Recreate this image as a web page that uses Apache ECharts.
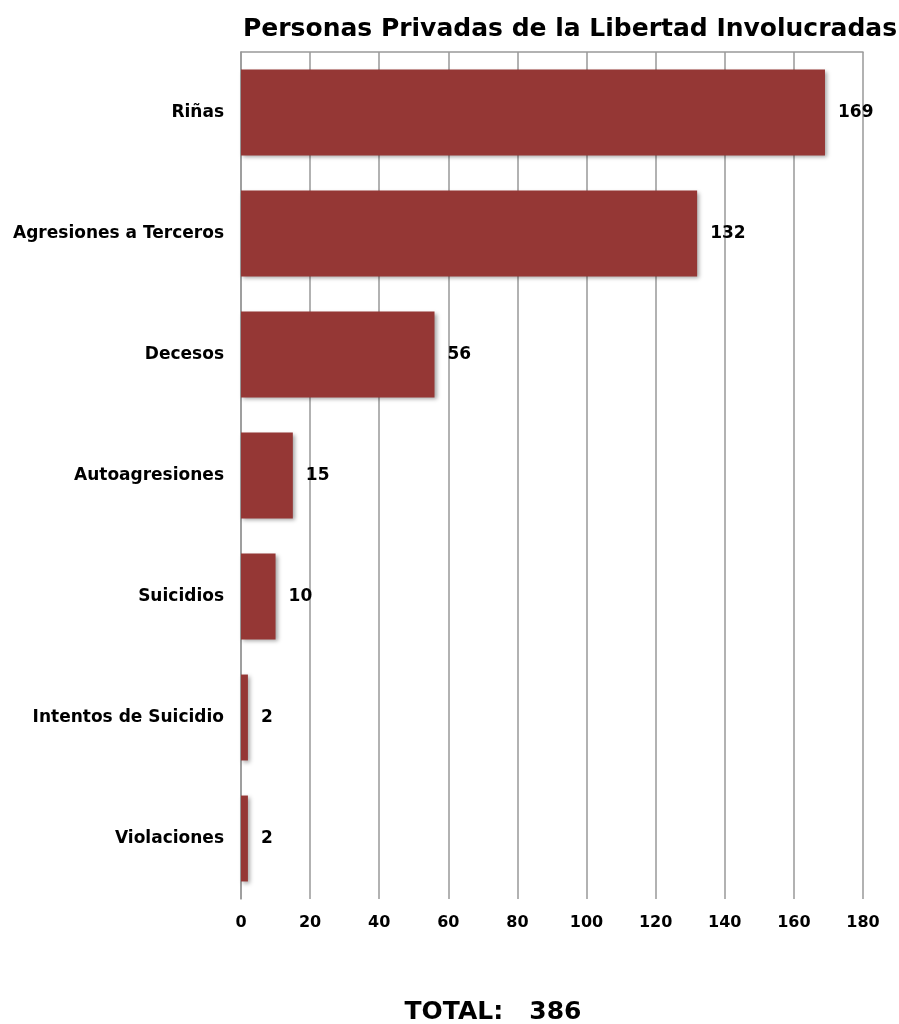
<!DOCTYPE html>
<html>
<head>
<meta charset="utf-8">
<script src="https://cdn.jsdelivr.net/npm/echarts@6/dist/echarts.min.js"></script>
<style>
html,body{margin:0;padding:0;background:#fff;}
#chart{width:899px;height:1024px;}
</style>
</head>
<body>
<div id="chart"></div>
<script>
var categories = ["Riñas", "Agresiones a Terceros", "Decesos", "Autoagresiones", "Suicidios", "Intentos de Suicidio", "Violaciones"];
var values = [169, 132, 56, 15, 10, 2, 2];
var totalLabel = "TOTAL:   386";
var titleText = "Personas Privadas de la Libertad Involucradas";

var FONT = "DejaVu Sans";
var chart = echarts.init(document.getElementById('chart'));
chart.setOption({
  backgroundColor: '#ffffff',
  animation: false,
  title: [{
    text: titleText,
    left: 565, top: 12, textAlign: 'center',
    textStyle: {fontFamily: FONT, fontWeight: 700, fontSize: 25, color: '#000'}
  }, {
    text: totalLabel,
    left: 488, top: 995, textAlign: 'center',
    textStyle: {fontFamily: FONT, fontWeight: 700, fontSize: 25, color: '#000'}
  }],
  grid: {left: 241, right: 36, top: 52, bottom: 125},
  xAxis: [{
    type: 'value', min: 0, max: 180, interval: 20,
    axisLine: {show: false},
    axisTick: {show: false},
    splitLine: {show: true, lineStyle: {color: '#999', width: 1.5}},
    axisLabel: {margin: 16, fontFamily: FONT, fontWeight: 700, fontSize: 16, color: '#000'}
  }, {
    type: 'value', min: 0, max: 180, position: 'top',
    axisLine: {show: true, lineStyle: {color: '#999', width: 1.5}},
    axisTick: {show: false}, axisLabel: {show: false}, splitLine: {show: false}
  }],
  yAxis: {
    type: 'category', data: categories, inverse: true,
    axisLine: {show: true, lineStyle: {color: '#999', width: 1.5}},
    axisTick: {show: false},
    axisLabel: {margin: 17, fontFamily: FONT, fontWeight: 700, fontSize: 17, color: '#000'}
  },
  series: [{
    type: 'bar', data: values, xAxisIndex: 0,
    barCategoryGap: '29%',
    itemStyle: {color: '#953735', shadowColor: 'rgba(0,0,0,0.35)', shadowBlur: 4, shadowOffsetX: 2, shadowOffsetY: 2},
    label: {show: true, position: 'right', distance: 13, fontFamily: FONT, fontWeight: 700, fontSize: 17, color: '#000'}
  }]
});
</script>
</body>
</html>
